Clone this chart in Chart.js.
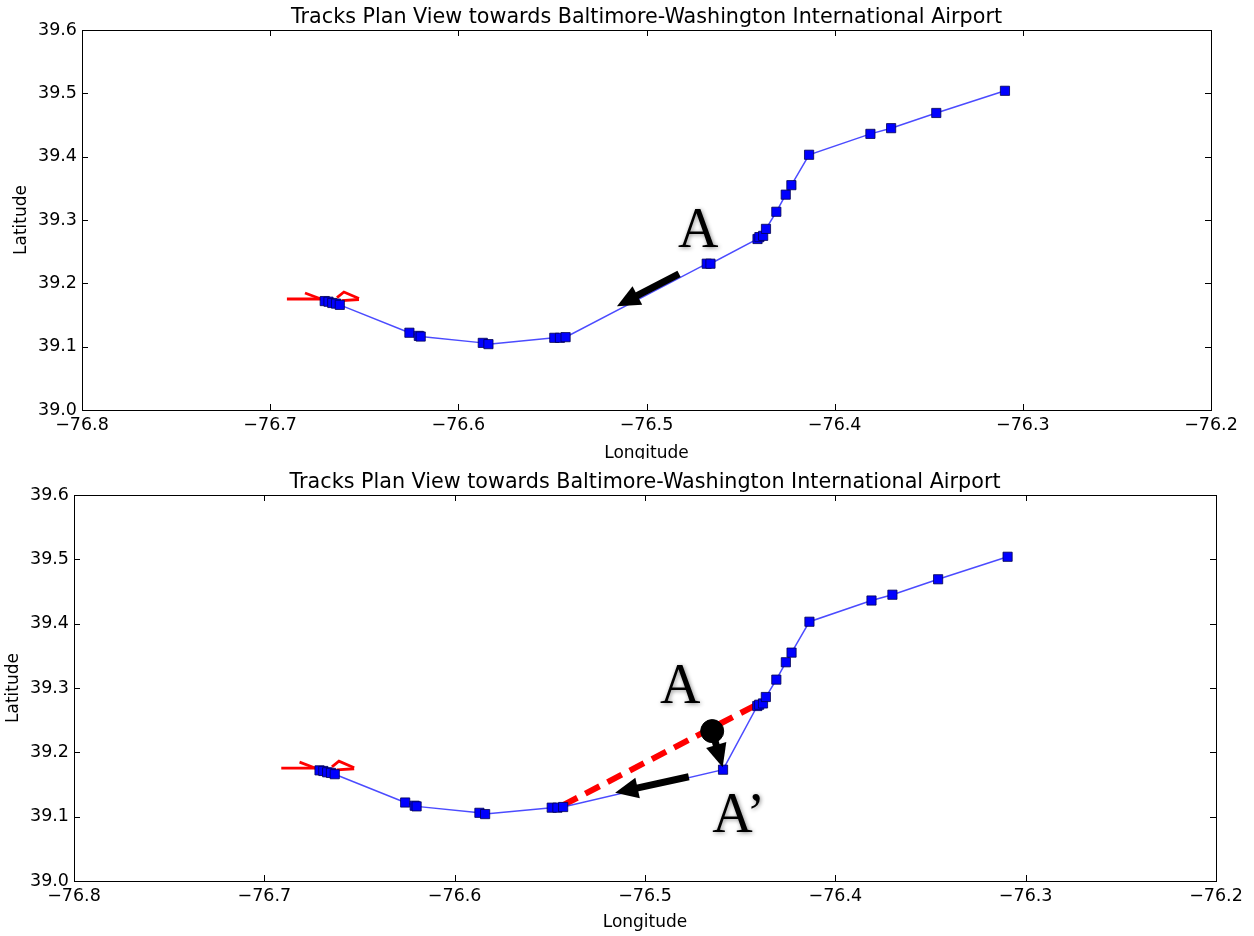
<!DOCTYPE html>
<html>
<head>
<meta charset="utf-8">
<script src="https://cdn.jsdelivr.net/npm/chart.js@4.4.1/dist/chart.umd.min.js"></script>
<style>
  html, body { margin: 0; padding: 0; background: #fff; }
  #wrap { position: relative; width: 1254px; height: 936px; overflow: hidden; }
  canvas { position: absolute; left: 0; }
</style>
</head>
<body>
<div id="wrap">
  <canvas id="topPlot" width="1254" height="459" style="top:0;width:1254px;height:459px"></canvas>
  <canvas id="bottomPlot" width="1254" height="477" style="top:459px;width:1254px;height:477px"></canvas>
</div>
<script>
const TITLE = 'Tracks Plan View towards Baltimore-Washington International Airport';
const FONT = '"DejaVu Sans", sans-serif';

// track before the change (upper panel)
const trackLon1 = [-76.671, -76.669, -76.667, -76.665, -76.663, -76.626, -76.621, -76.620, -76.587, -76.584,
  -76.549, -76.546, -76.543, -76.468, -76.466, -76.441, -76.440, -76.438, -76.4365, -76.431,
  -76.426, -76.423, -76.4136, -76.381, -76.370, -76.346, -76.3095];
const trackLat1 = [39.172, 39.171, 39.169, 39.168, 39.166, 39.122, 39.117, 39.116, 39.106, 39.104,
  39.114, 39.114, 39.115, 39.231, 39.231, 39.270, 39.273, 39.275, 39.286, 39.313,
  39.340, 39.355, 39.403, 39.436, 39.445, 39.469, 39.504];

// track after point A moved to A' (lower panel)
const trackLon2 = [-76.671, -76.669, -76.667, -76.665, -76.663, -76.626, -76.621, -76.620, -76.587, -76.584,
  -76.549, -76.546, -76.543, -76.459, -76.441, -76.440, -76.438, -76.4365, -76.431,
  -76.426, -76.423, -76.4136, -76.381, -76.370, -76.346, -76.3095];
const trackLat2 = [39.172, 39.171, 39.169, 39.168, 39.166, 39.122, 39.117, 39.116, 39.106, 39.104,
  39.114, 39.114, 39.115, 39.173, 39.272, 39.274, 39.276, 39.286, 39.313,
  39.340, 39.355, 39.403, 39.436, 39.445, 39.469, 39.504];

// red marks at the track start
const barbLon = [[-76.6911, -76.6682], [-76.6815, -76.6730], [-76.6645, -76.6608, -76.6528], [-76.6528, -76.6620]];
const barbLat = [[39.1753, 39.1753], [39.1847, 39.1753], [39.1775, 39.1863, 39.1760], [39.1745, 39.1728]];

// lower panel extras
const dashLon = [-76.543, -76.440];
const dashLat = [39.118, 39.276];
const dotLon = [-76.4647];
const dotLat = [39.233];

// arrows: [tailLon, tailLat, tipLon, tipLat]
const arrows1 = [[-76.4827, 39.215, -76.5157, 39.164]];
const arrows2 = [[-76.477, 39.162, -76.5157, 39.137], [-76.4647, 39.233, -76.4592, 39.177]];

// text labels (left edge, baseline)
const labels1 = ['A'];
const labelLon1 = [-76.4833];
const labelLat1 = [39.2574];
const labels2 = ['A', 'A\u2019'];
const labelLon2 = [-76.4921, -76.4647];
const labelLat2 = [39.2768, 39.0762];

const pts = (xs, ys) => xs.map((v, i) => ({ x: v, y: ys[i] }));
const fmt = (v) => (Math.round(v * 10) / 10).toFixed(1).replace('-', '\u2212');

const framePlugin = {
  id: 'frame',
  afterDraw(chart) {
    const { ctx, chartArea: a, scales: { x, y } } = chart;
    ctx.save();
    ctx.strokeStyle = '#000';
    ctx.lineWidth = 1;
    ctx.strokeRect(a.left + 0.5, a.top + 0.5, a.right - a.left, a.bottom - a.top);
    ctx.beginPath();
    x.ticks.forEach((t) => {
      const px = Math.round(x.getPixelForValue(t.value)) + 0.5;
      ctx.moveTo(px, a.bottom); ctx.lineTo(px, a.bottom - 6);
      ctx.moveTo(px, a.top); ctx.lineTo(px, a.top + 6);
    });
    y.ticks.forEach((t) => {
      const py = Math.round(y.getPixelForValue(t.value)) + 0.5;
      ctx.moveTo(a.left, py); ctx.lineTo(a.left + 6, py);
      ctx.moveTo(a.right, py); ctx.lineTo(a.right - 6, py);
    });
    ctx.stroke();
    // title centred over the plot area
    ctx.fillStyle = '#000';
    ctx.font = '20.7px ' + FONT;
    ctx.textAlign = 'center';
    ctx.textBaseline = 'middle';
    ctx.fillText(TITLE, (a.left + a.right) / 2, a.top - 12);
    ctx.restore();
  }
};

const annotPlugin = {
  id: 'annot',
  afterDatasetsDraw(chart, args, opts) {
    const { ctx, scales: { x, y } } = chart;
    ctx.save();
    (opts.arrows || []).forEach((a) => {
      const x0 = x.getPixelForValue(a[0]), y0 = y.getPixelForValue(a[1]);
      const x1 = x.getPixelForValue(a[2]), y1 = y.getPixelForValue(a[3]);
      const ang = Math.atan2(y1 - y0, x1 - x0);
      const L = 23, W = 10.5;
      const c = Math.cos(ang), s = Math.sin(ang);
      const bx = x1 - L * c, by = y1 - L * s;
      ctx.strokeStyle = '#000';
      ctx.lineWidth = 7;
      ctx.beginPath(); ctx.moveTo(x0, y0); ctx.lineTo(bx + 2 * c, by + 2 * s); ctx.stroke();
      ctx.fillStyle = '#000';
      ctx.beginPath();
      ctx.moveTo(x1, y1);
      ctx.lineTo(bx - W * s, by + W * c);
      ctx.lineTo(bx + W * s, by - W * c);
      ctx.closePath();
      ctx.fill();
    });
    ctx.font = '56px "Liberation Serif", "DejaVu Serif", serif';
    ctx.textAlign = 'left';
    ctx.textBaseline = 'alphabetic';
    ctx.fillStyle = '#000';
    ctx.shadowColor = 'rgba(0,0,0,0.45)';
    ctx.shadowBlur = 4;
    ctx.shadowOffsetX = 1;
    ctx.shadowOffsetY = 1;
    (opts.text || []).forEach((t, i) => {
      ctx.fillText(t, x.getPixelForValue(opts.lon[i]), y.getPixelForValue(opts.lat[i]));
    });
    ctx.restore();
  }
};

function makeChart(id, g, datasets, annot) {
  return new Chart(document.getElementById(id), {
    type: 'scatter',
    data: { datasets },
    options: {
      responsive: false,
      animation: false,
      devicePixelRatio: 1,
      layout: { padding: { left: 0, right: g.padRight, top: g.padTop, bottom: 0 } },
      plugins: {
        legend: { display: false },
        tooltip: { enabled: false },
        title: { display: false },
        annot
      },
      scales: {
        x: {
          type: 'linear', min: -76.8, max: -76.2,
          afterFit: (s) => { s.height = g.xAxisH; },
          grid: { display: false, drawTicks: false },
          border: { display: false },
          ticks: { stepSize: 0.1, padding: 5, color: '#000', maxRotation: 0, autoSkip: false,
            font: { family: FONT, size: 17.5 }, callback: fmt },
          title: { display: true, text: 'Longitude', color: '#000',
            font: { family: FONT, size: 17, lineHeight: 1.2 }, padding: { top: 0, bottom: g.xTitlePad } }
        },
        y: {
          type: 'linear', min: 39.0, max: 39.6,
          afterFit: (s) => { s.width = g.yAxisW; },
          grid: { display: false, drawTicks: false },
          border: { display: false },
          ticks: { stepSize: 0.1, padding: 5, color: '#000',
            font: { family: FONT, size: 17.5 }, callback: fmt },
          title: { display: true, text: 'Latitude', color: '#000',
            font: { family: FONT, size: 17, lineHeight: 1.2 }, padding: { top: g.yTitlePad, bottom: 0 } }
        }
      }
    },
    plugins: [framePlugin, annotPlugin]
  });
}

function trackSet(lon, lat) {
  return {
    data: pts(lon, lat), showLine: true, order: 1,
    borderColor: 'rgba(30,30,255,0.8)', borderWidth: 1.5,
    pointStyle: 'rect', pointRadius: 6.5,
    pointBackgroundColor: '#0000ff', pointBorderColor: '#000050', pointBorderWidth: 0.8
  };
}
function barbSets() {
  return barbLon.map((lon, i) => ({
    data: pts(lon, barbLat[i]), showLine: true, order: 3,
    borderColor: '#ff0000', borderWidth: 2.8, pointRadius: 0
  }));
}

makeChart('topPlot',
  { padRight: 43, padTop: 30, xAxisH: 49, xTitlePad: -5, yAxisW: 82, yTitlePad: 11 },
  [trackSet(trackLon1, trackLat1), ...barbSets()],
  { arrows: arrows1, text: labels1, lon: labelLon1, lat: labelLat1 });

makeChart('bottomPlot',
  { padRight: 38, padTop: 36, xAxisH: 55, xTitlePad: 3.5, yAxisW: 74, yTitlePad: 3 },
  [
    trackSet(trackLon2, trackLat2),
    ...barbSets(),
    { data: pts(dashLon, dashLat), showLine: true, order: 2, borderColor: '#ff0000', borderWidth: 6,
      borderDash: [16, 9], pointRadius: 0 },
    { data: pts(dotLon, dotLat), showLine: false, order: 0, pointRadius: 11.5,
      pointBackgroundColor: '#000', pointBorderColor: '#000' }
  ],
  { arrows: arrows2, text: labels2, lon: labelLon2, lat: labelLat2 });
</script>
</body>
</html>
